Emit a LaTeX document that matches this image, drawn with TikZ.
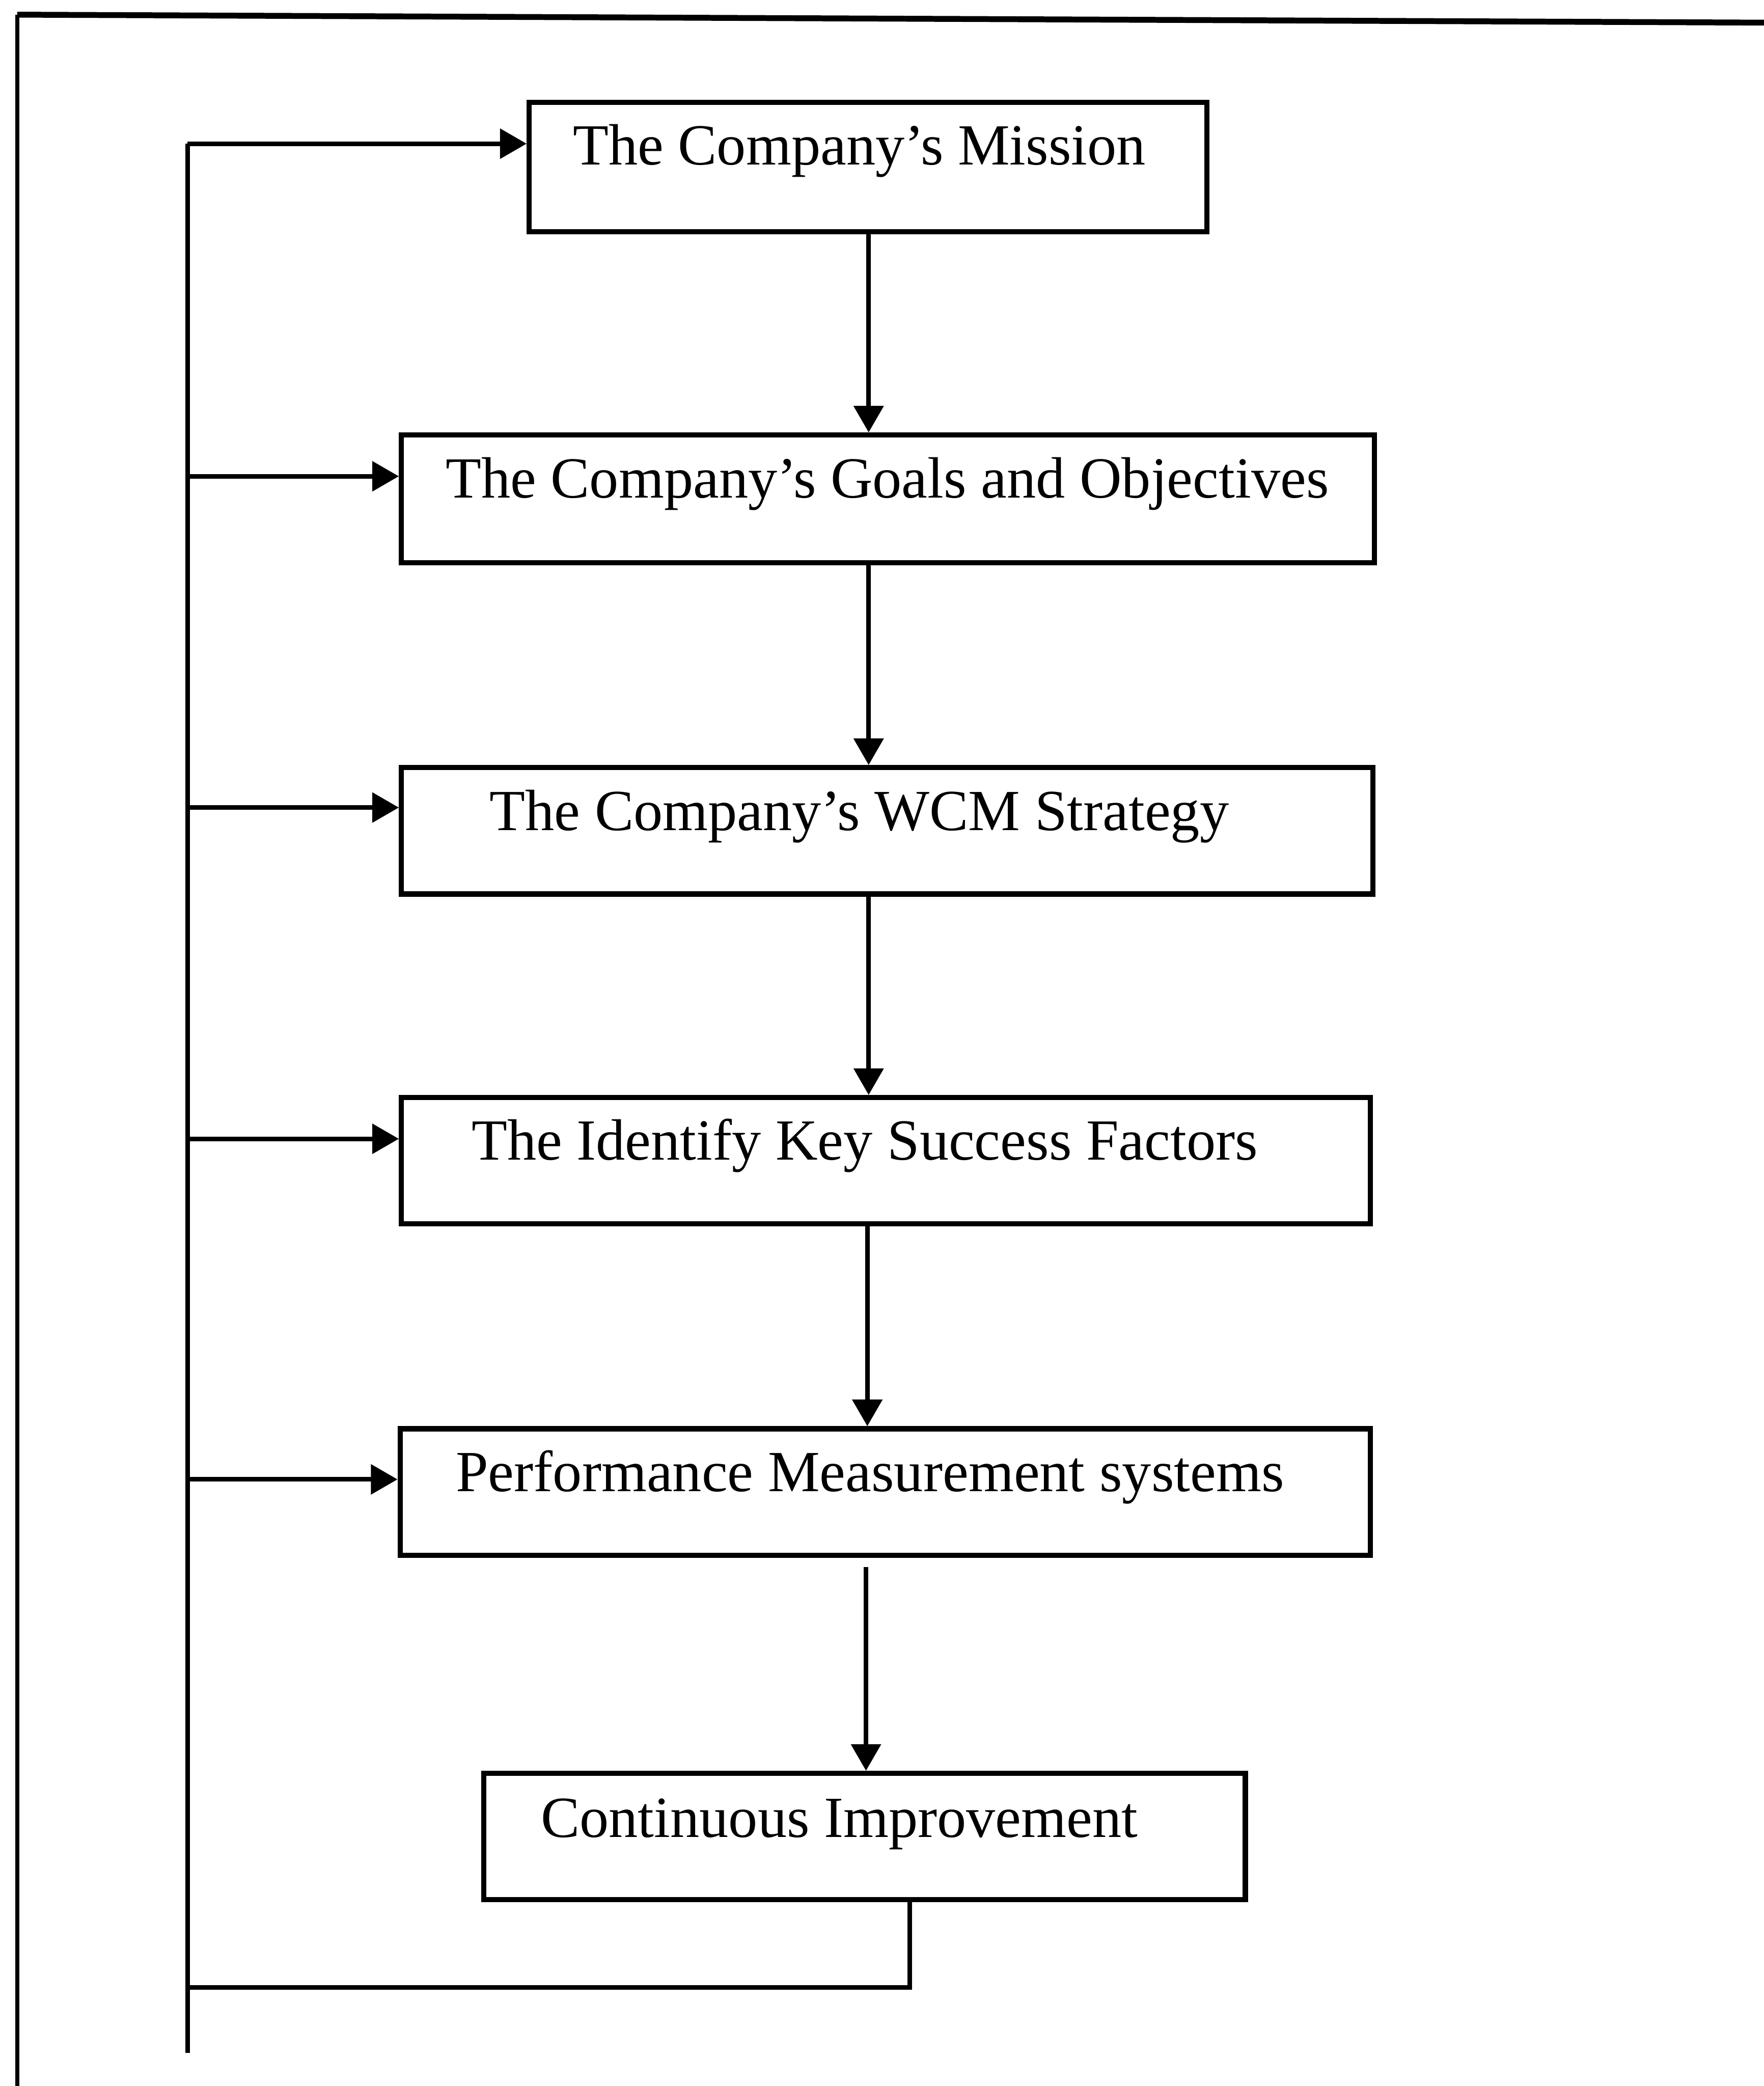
\documentclass[tikz,border=0pt]{standalone}
\usepackage{fontspec}
\setmainfont{Liberation Serif}
\usetikzlibrary{arrows.meta}
\begin{document}
\begin{tikzpicture}[x=0.01cm,y=-0.01cm,
  box/.style={draw, line width=1.1pt, inner sep=0pt},
  lbl/.style={font=\fontsize{12.45}{15}\selectfont, inner sep=0pt, anchor=base},
  arr/.style={line width=1pt, -{Triangle[length=2mm,width=2.2mm]}},
  wire/.style={line width=1pt},
  frameline/.style={line width=1.25pt}]
\useasboundingbox (0,0) rectangle (1326,1568);

% outer frame (top and left sides only)
\coordinate (ftl) at (13,11);
\coordinate (ftr) at (1326,17);
\coordinate (fbl) at (13,1568);
\draw[frameline] (ftl) -- (ftr);
\draw[line width=0.9pt] (ftl) -- (fbl);

% process boxes
\node[box, minimum width=5.09cm, minimum height=0.97cm] (mission) at (652.5,125.5) {};
\node[box, minimum width=7.31cm, minimum height=0.96cm] (goals)   at (667.5,375) {};
\node[box, minimum width=7.30cm, minimum height=0.95cm] (wcm)     at (667,624.5) {};
\node[box, minimum width=7.28cm, minimum height=0.95cm] (ksf)     at (666,872.5) {};
\node[box, minimum width=7.29cm, minimum height=0.95cm] (pms)     at (665.5,1121.5) {};
\node[box, minimum width=5.72cm, minimum height=0.95cm] (ci)      at (650,1380.5) {};

% box captions
\node[lbl] (mission-t) at (646,124)  {The Company’s Mission};
\node[lbl] (goals-t)   at (667,374)  {The Company’s Goals and Objectives};
\node[lbl] (wcm-t)     at (646,624)  {The Company’s WCM Strategy};
\node[lbl] (ksf-t)     at (650,872)  {The Identify Key Success Factors};
\node[lbl] (pms-t)     at (654,1121) {Performance Measurement systems};
\node[lbl] (ci-t)      at (631,1381) {Continuous Improvement};

% main downward flow
\draw[arr] (mission.south -| 653,0) -- (goals.north -| 653,0);
\draw[arr] (goals.south -| 653,0)   -- (wcm.north -| 653,0);
\draw[arr] (wcm.south -| 653,0)     -- (ksf.north -| 653,0);
\draw[arr] (ksf.south -| 652,0)     -- (pms.north -| 652,0);
\draw[arr, shorten <=7*0.01cm] (pms.south -| 651,0) -- (ci.north -| 651,0);

% feedback loop
\coordinate (fbtop)  at (141,108);
\coordinate (fbend)  at (141,1543);
\coordinate (fbturn) at (684,1494);
\coordinate (f2) at (141,358);
\coordinate (f3) at (141,607);
\coordinate (f4) at (141,856);
\coordinate (f5) at (141,1112);
\draw[wire] (fbtop) -- (fbend);
\draw[wire] (ci.south -| fbturn) -- (fbturn) -- (fbturn -| fbtop);
\draw[arr] (fbtop) -- (fbtop -| mission.west);
\draw[arr] (f2) -- (f2 -| goals.west);
\draw[arr] (f3) -- (f3 -| wcm.west);
\draw[arr] (f4) -- (f4 -| ksf.west);
\draw[arr] (f5) -- (f5 -| pms.west);
\end{tikzpicture}
\end{document}
